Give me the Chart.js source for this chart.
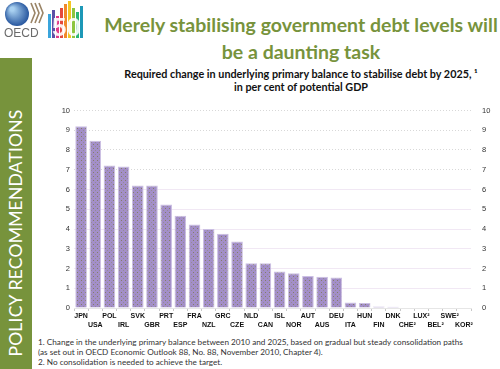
<!DOCTYPE html>
<html>
<head>
<meta charset="utf-8">
<script src="https://cdn.jsdelivr.net/npm/chart.js@4.4.0/dist/chart.umd.min.js"></script>
<style>
  body { margin: 0; width: 500px; height: 369px; background: #fff; position: relative; overflow: hidden; font-family: Lato, "Open Sans", sans-serif; }
  .band { position: absolute; left: 0; top: 58px; width: 32px; height: 311px; background: #77933c; overflow: hidden; }
  .band div { position: absolute; left: -124px; top: 165px; width: 280px; height: 20px; line-height: 20px; text-align: center; transform: rotate(-90deg); color: #fff; font-size: 17.5px; white-space: nowrap; letter-spacing: 0.2px; }
  .title { position: absolute; left: 90px; width: 422px; top: 11px; text-align: center; color: #77933c; font-weight: bold; font-size: 19.5px; line-height: 27px; }
  .sub { position: absolute; left: 90px; width: 422px; top: 67px; text-align: center; color: #111; font-weight: bold; font-size: 10.8px; line-height: 13px; }
  .notes { position: absolute; left: 38px; top: 337px; color: #333; font-size: 8.2px; line-height: 10px; white-space: nowrap; }
  #chart { position: absolute; left: 40px; top: 95px; }
  #logo { position: absolute; left: 0; top: 0; }
</style>
</head>
<body>
<canvas id="logo" width="90" height="40"></canvas>
<div class="band"><div>POLICY RECOMMENDATIONS</div></div>
<div class="title">Merely stabilising government debt levels will<br>be a daunting task</div>
<div class="sub">Required change in underlying primary balance to stabilise debt by 2025, ¹<br>in per cent of potential GDP</div>
<canvas id="chart" width="460" height="240"></canvas>
<div class="notes">1. Change in the underlying primary balance between 2010 and 2025, based on gradual but steady consolidation paths<br>(as set out in OECD Economic Outlook 88, No. 88, November 2010, Chapter 4).<br>2. No consolidation is needed to achieve the target.</div>
<script>
const countries = ["JPN", "USA", "POL", "IRL", "SVK", "GBR", "PRT", "ESP", "FRA", "NZL", "GRC", "CZE", "NLD", "CAN",
  "ISL", "NOR", "AUT", "AUS", "DEU", "ITA", "HUN", "FIN", "DNK", "CHE²", "LUX²", "BEL²", "SWE²", "KOR²"];
const balanceChange = [9.2, 8.47, 7.22, 7.16, 6.2, 6.2, 5.24, 4.67, 4.23, 4.0, 3.76, 3.37, 2.27, 2.26,
  1.85, 1.76, 1.62, 1.58, 1.55, 0.28, 0.25, 0.08, 0.06, 0, 0, 0, 0, 0];
const yTicks = [0, 1, 2, 3, 4, 5, 6, 7, 8, 9, 10];

// staggered labels: even index on first row, odd on second
const labels = countries.map((c, i) => i % 2 === 0 ? [c, ""] : ["", c]);

// dotted purple fill like the original
const tile = document.createElement("canvas");
tile.width = 4; tile.height = 4;
const tc = tile.getContext("2d");
tc.fillStyle = "#a38fc8";
tc.fillRect(0, 0, 4, 4);
tc.fillStyle = "#857c6a";
tc.fillRect(1, 1, 1, 1);
tc.fillStyle = "#958a94";
tc.fillRect(3, 3, 1, 1);
const barFill = document.getElementById("chart").getContext("2d").createPattern(tile, "repeat");

const tickFont = { family: "'Liberation Sans', Arial, sans-serif", size: 7.5 };

new Chart(document.getElementById("chart"), {
  type: "bar",
  data: {
    labels: labels,
    datasets: [{
      data: balanceChange,
      backgroundColor: barFill,
      borderColor: "#cbbfe3",
      borderWidth: 1,
      barPercentage: 0.82,
      categoryPercentage: 1
    }]
  },
  options: {
    responsive: false,
    devicePixelRatio: 1,
    animation: false,
    layout: { padding: { top: 9, left: 0, right: 0, bottom: 0 } },
    plugins: { legend: { display: false }, tooltip: { enabled: false } },
    scales: {
      x: {
        grid: { drawOnChartArea: false, drawTicks: true, tickLength: 3, color: "#c8c8c8" },
        border: { color: "#e6e6e6" },
        ticks: {
          autoSkip: false, maxRotation: 0, padding: 0, color: "#111",
          font: { family: "'Liberation Sans', Arial, sans-serif", size: 7, weight: "bold", lineHeight: 1.35 }
        },
        afterFit: (s) => { s.height = 27; }
      },
      y: {
        min: 0, max: 10,
        afterBuildTicks: (s) => { s.ticks = yTicks.map(v => ({ value: v })); },
        grid: {
          drawTicks: false,
          color: (ctx) => ctx.tick && ctx.tick.value >= 7 ? "#d8d8d8" : "#f1e8f4"
        },
        border: {
          display: false,
          dash: (ctx) => ctx.tick && ctx.tick.value >= 7 ? [1, 2] : []
        },
        ticks: { padding: 4, color: "#333", font: tickFont },
        afterFit: (s) => { s.width = 34; }
      },
      y2: {
        position: "right",
        min: 0, max: 10,
        afterBuildTicks: (s) => { s.ticks = yTicks.map(v => ({ value: v })); },
        grid: { drawOnChartArea: false, drawTicks: false },
        border: { display: false },
        ticks: { padding: 11, color: "#333", font: tickFont },
        afterFit: (s) => { s.width = 29; }
      }
    }
  }
});

// OECD / 50 logo approximation
const lg = document.getElementById("logo").getContext("2d");
const grad = lg.createRadialGradient(12, 9, 2, 17, 14, 13);
grad.addColorStop(0, "#a8d0f0");
grad.addColorStop(1, "#1f4f9a");
lg.fillStyle = grad;
lg.beginPath(); lg.arc(17, 14, 12, 0, Math.PI * 2); lg.fill();
lg.strokeStyle = "#9a8466"; lg.lineWidth = 1.6;
[31, 35, 39].forEach(x => { lg.beginPath(); lg.moveTo(x, 3); lg.lineTo(x + 4, 13); lg.lineTo(x, 23); lg.stroke(); });
lg.fillStyle = "#6b6b6b";
lg.font = "12px 'Liberation Sans', Arial";
lg.fillText("OECD", 4, 37);
const cols = ["#3aa5dc", "#5d4fa6", "#e03b8b", "#e54a3c", "#f08a2a", "#f3c623", "#8cc63f", "#2bb673", "#1d98b7"];
const hts = [24, 28, 22, 30, 34, 37, 30, 26, 32];
cols.forEach((c, i) => { lg.fillStyle = c; lg.fillRect(48 + i * 4, 38 - hts[i], 3, hts[i]); });
lg.fillStyle = "rgba(255,255,255,0.9)";
lg.font = "bold 26px 'Liberation Sans', Arial";
lg.fillText("50", 52, 36);
</script>
</body>
</html>
